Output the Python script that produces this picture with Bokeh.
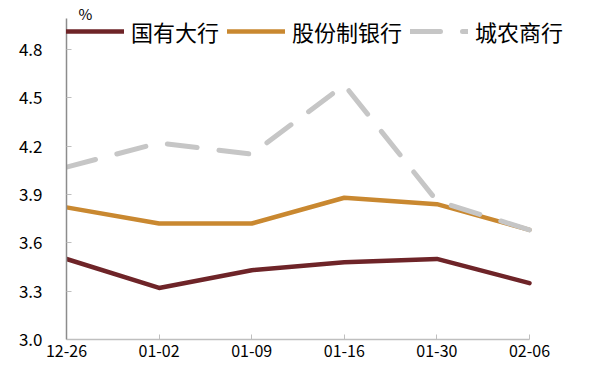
from bokeh.plotting import figure
from bokeh.models import FixedTicker, Legend, LegendItem, Label, Range1d
from bokeh.embed import file_html
from bokeh.resources import INLINE

categories = ["12-26", "01-02", "01-09", "01-16", "01-30", "02-06"]
big_banks = [3.50, 3.32, 3.43, 3.48, 3.50, 3.35]
joint_stock = [3.82, 3.72, 3.72, 3.88, 3.84, 3.68]
rural_city = [4.07, 4.22, 4.15, 4.58, 3.86, 3.68]
series_names = ["国有大行", "股份制银行", "城农商行"]
y_ticks = [3.0, 3.3, 3.6, 3.9, 4.2, 4.5, 4.8]

xs = list(range(len(categories)))
last = len(categories) - 1
FONT = "Noto Sans CJK SC"

p = figure(width=589, height=380, output_backend="svg", toolbar_location=None,
           x_range=Range1d(0, last + 0.605), y_range=Range1d(3.0, 5.104),
           min_border_left=66, min_border_right=4, min_border_top=0, min_border_bottom=41)
p.outline_line_color = None
p.grid.visible = False
p.background_fill_color = "white"

r1 = p.line(xs, big_banks, line_color="#6E2428", line_width=4.5, line_cap="round", line_join="round")
r2 = p.line(xs, joint_stock, line_color="#C98830", line_width=4.5, line_cap="round", line_join="round")
r3 = p.line(xs, rural_city, line_color="#C6C6C6", line_width=5, line_dash="30 22", line_cap="round")

# axes
p.xaxis.bounds = (0, last)
p.xaxis.ticker = FixedTicker(ticks=xs)
p.xaxis.major_label_overrides = {i: c for i, c in enumerate(categories)}
p.xaxis.axis_line_color = "#BFBFBF"
p.xaxis.axis_line_width = 1.5
p.xaxis.major_tick_line_color = "#BFBFBF"
p.xaxis.major_tick_in = 5
p.xaxis.major_tick_out = 0
p.xaxis.minor_tick_line_color = None
p.xaxis.major_label_text_font = FONT
p.xaxis.major_label_text_font_size = "16px"
p.xaxis.major_label_text_color = "black"
p.xaxis.major_label_standoff = 5

p.yaxis.bounds = (3.0, 4.99)
p.yaxis.ticker = FixedTicker(ticks=y_ticks)
p.yaxis.major_label_overrides = {t: f"{t:.1f}" for t in y_ticks}
p.yaxis.axis_line_color = "#8C8C8C"
p.yaxis.axis_line_width = 1.5
p.yaxis.major_tick_line_color = "#BFBFBF"
p.yaxis.major_tick_in = 5
p.yaxis.major_tick_out = 0
p.yaxis.minor_tick_line_color = None
p.yaxis.major_label_text_font = FONT
p.yaxis.major_label_text_font_size = "17px"
p.yaxis.major_label_text_color = "black"
p.yaxis.major_label_standoff = 24

legend = Legend(items=[LegendItem(label=series_names[0], renderers=[r1]),
                       LegendItem(label=series_names[1], renderers=[r2]),
                       LegendItem(label=series_names[2], renderers=[r3])],
                orientation="horizontal", location=(0, 292),
                margin=0, padding=0, spacing=8, label_standoff=7,
                glyph_width=58, glyph_height=20, label_height=20,
                label_text_font=FONT, label_text_font_size="22px",
                label_text_color="black",
                background_fill_alpha=0, border_line_color=None)
p.add_layout(legend)

p.add_layout(Label(x=0, y=4.99, x_offset=12, y_offset=-5, text="%",
                   text_font=FONT, text_font_size="15px", text_color="black"))

open("out.html", "w").write(file_html(p, INLINE))
